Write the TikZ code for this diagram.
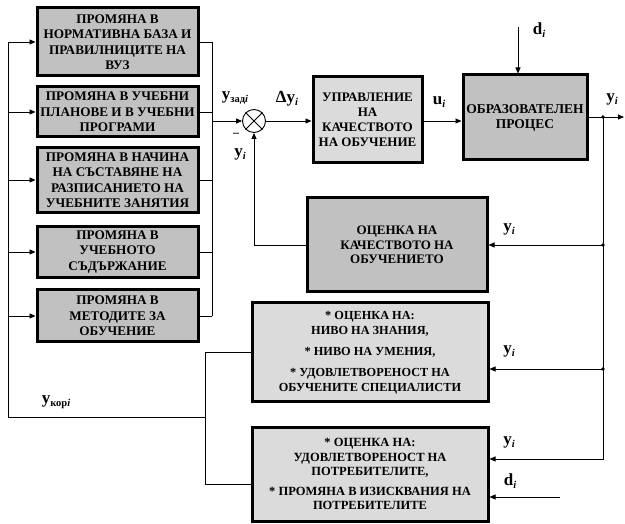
\documentclass[tikz,border=0pt]{standalone}
\usepackage{fontspec}
\setmainfont{Liberation Serif}
\usetikzlibrary{arrows.meta}

\definecolor{darkfill}{RGB}{193,193,193}
\definecolor{lightfill}{RGB}{219,219,219}

\tikzset{
  block/.style={draw, line width=3pt, fill=darkfill, align=center, inner sep=1pt,
                font=\bfseries\fontsize{13.2}{15.5}\selectfont},
  lightblock/.style={block, fill=lightfill},
  conn/.style={line width=0.9pt},
  arr/.style={conn, -{Triangle[length=6pt,width=5pt]}},
  sig/.style={inner sep=0pt}
}
% signal label: big bold letter with a lowered small subscript
\newcommand{\sig}[2]{{\fontsize{17}{17}\selectfont\bfseries #1}\raisebox{-3pt}{\fontsize{10.5}{10.5}\selectfont\bfseries #2}}

\begin{document}
\begin{tikzpicture}[x=1pt,y=-1pt]
    \useasboundingbox (0,0) rectangle (625,524);

    % Left column of change blocks: name / centre y / height / text
    \foreach \n/\yc/\h/\txt in {%
        1/42/68/{ПРОМЯНА В\\НОРМАТИВНА БАЗА И\\ПРАВИЛНИЦИТЕ НА\\ВУЗ},
        2/112/50/{ПРОМЯНА В УЧЕБНИ\\ПЛАНОВЕ И В УЧЕБНИ\\ПРОГРАМИ},
        3/180/65/{ПРОМЯНА В НАЧИНА\\НА СЪСТАВЯНЕ НА\\РАЗПИСАНИЕТО НА\\УЧЕБНИТЕ ЗАНЯТИЯ},
        4/252/51/{ПРОМЯНА В\\УЧЕБНОТО\\СЪДЪРЖАНИЕ},
        5/316/52/{ПРОМЯНА В\\МЕТОДИТЕ ЗА\\ОБУЧЕНИЕ}} {%
      \node[block, minimum width=161pt, minimum height=\h pt] (ch\n) at (117.5,\yc) {\txt};
      % bus coordinates on the left and on the right
      \coordinate (lb\n) at (8,\yc);
      \coordinate (rb\n) at (212,\yc);
      \draw[arr] (lb\n) -- (ch\n.west);
      \draw[conn] (ch\n.east) -- (rb\n);
    }

    % Main loop blocks
    \node[draw, circle, conn, fill=white, minimum size=23pt, inner sep=0pt] (sum) at (254,121) {};
    \draw[conn] (sum.north west) -- (sum.south east) (sum.north east) -- (sum.south west);
    \node[lightblock, minimum width=109pt, minimum height=86pt,
          font=\bfseries\fontsize{13}{15}\selectfont] (upr) at (367.5,120)
      {УПРАВЛЕНИЕ\\НА\\КАЧЕСТВОТО\\НА ОБУЧЕНИЕ};
    \node[block, minimum width=124pt, minimum height=85pt,
          font=\bfseries\fontsize{13.5}{15}\selectfont] (proc) at (525,117.5)
      {ОБРАЗОВАТЕЛЕН\\ПРОЦЕС};
    \node[block, minimum width=180pt, minimum height=94pt,
          font=\bfseries\fontsize{13}{14.5}\selectfont] (ocq) at (397,245)
      {ОЦЕНКА НА\\КАЧЕСТВОТО НА\\ОБУЧЕНИЕТО};

    % Evaluation blocks at the bottom
    \node[lightblock, minimum width=236pt, minimum height=99pt,
          font=\bfseries\fontsize{12.3}{15}\selectfont] (niv) at (370,352.5)
      {* ОЦЕНКА НА:\\НИВО НА ЗНАНИЯ,\\[6pt]* НИВО НА УМЕНИЯ,\\[6pt]* УДОВЛЕТВОРЕНОСТ НА\\ОБУЧЕНИТЕ СПЕЦИАЛИСТИ};
    \node[lightblock, minimum width=236pt, minimum height=94pt,
          font=\bfseries\fontsize{12.5}{14.5}\selectfont] (pot) at (370,474)
      {* ОЦЕНКА НА:\\УДОВЛЕТВОРЕНОСТ НА\\ПОТРЕБИТЕЛИТЕ,\\[5pt]* ПРОМЯНА В ИЗИСКВАНИЯ НА\\ПОТРЕБИТЕЛИТЕ};

    % Buses of the change blocks
    \coordinate (rbo) at (212,121);
    \coordinate (kor) at (8,417);
    \coordinate (kj) at (205,417);
    \coordinate (pin) at ([yshift=-10pt]pot.west);
    \draw[conn] (rb1) -- (rb5);
    \draw[arr] (rbo) -- (sum.west);
    \draw[conn] (niv.west) -- (niv.west -| kj) -- (kj |- pin) -- (pin);
    \draw[conn] (kj) -- (kor) -- (lb1);

    % Forward path
    \draw[arr] (sum.east) -- (upr.west |- sum.east);
    \draw[arr] (upr.east |- sum.east) -- (proc.west |- sum.east);
    \coordinate (dtop) at (518,27);
    \draw[arr] (dtop) -- (dtop |- proc.north);
    \coordinate (yend) at (624,117);
    \coordinate (j1) at (603,117);
    \draw[arr] (proc.east |- yend) -- (yend);

    % Feedback paths
    \coordinate (nyi) at ([yshift=-16.5pt]niv.east);
    \coordinate (pyi) at ([yshift=15pt]pot.east);
    \coordinate (pdi) at ([yshift=-23pt]pot.east);
    \coordinate (dend) at (560,497);
    \draw[arr] (j1) |- (pyi);
    \draw[arr] (j1 |- ocq.east) -- (ocq.east);
    \draw[arr] (j1 |- nyi) -- (nyi);
    \draw[arr] (dend) -- (pdi);
    \draw[arr] (ocq.west) -| (sum.south);
    \foreach \c in {j1, {j1 |- ocq.east}, {j1 |- nyi}}
      \fill (\c) circle (1.8pt);

    % Signal labels
    \node[sig] (lzad) at (235,98) {\sig{y}{зад\textit{i}}};
    \node[sig] (ldy) at (287,99) {\sig{Δy}{\textit{i}}};
    \node[sig, font=\bfseries\large] (lmin) at (236,135) {–};
    \node[sig] (lfb) at (240,154) {\sig{y}{\textit{i}}};
    \node[sig] (lu) at (439,102) {\sig{u}{\textit{i}}};
    \node[sig] (ld) at (539,30) {\sig{d}{\textit{i}}};
    \node[sig] (lyo) at (612,99) {\sig{y}{\textit{i}}};
    \node[sig] (ly1) at (509,229) {\sig{y}{\textit{i}}};
    \node[sig] (ly2) at (509,351) {\sig{y}{\textit{i}}};
    \node[sig] (ly3) at (509,442) {\sig{y}{\textit{i}}};
    \node[sig] (ld2) at (510,481) {\sig{d}{\textit{i}}};
    \node[sig] (lkor) at (56,402) {\sig{y}{кор\textit{i}}};
\end{tikzpicture}
\end{document}
